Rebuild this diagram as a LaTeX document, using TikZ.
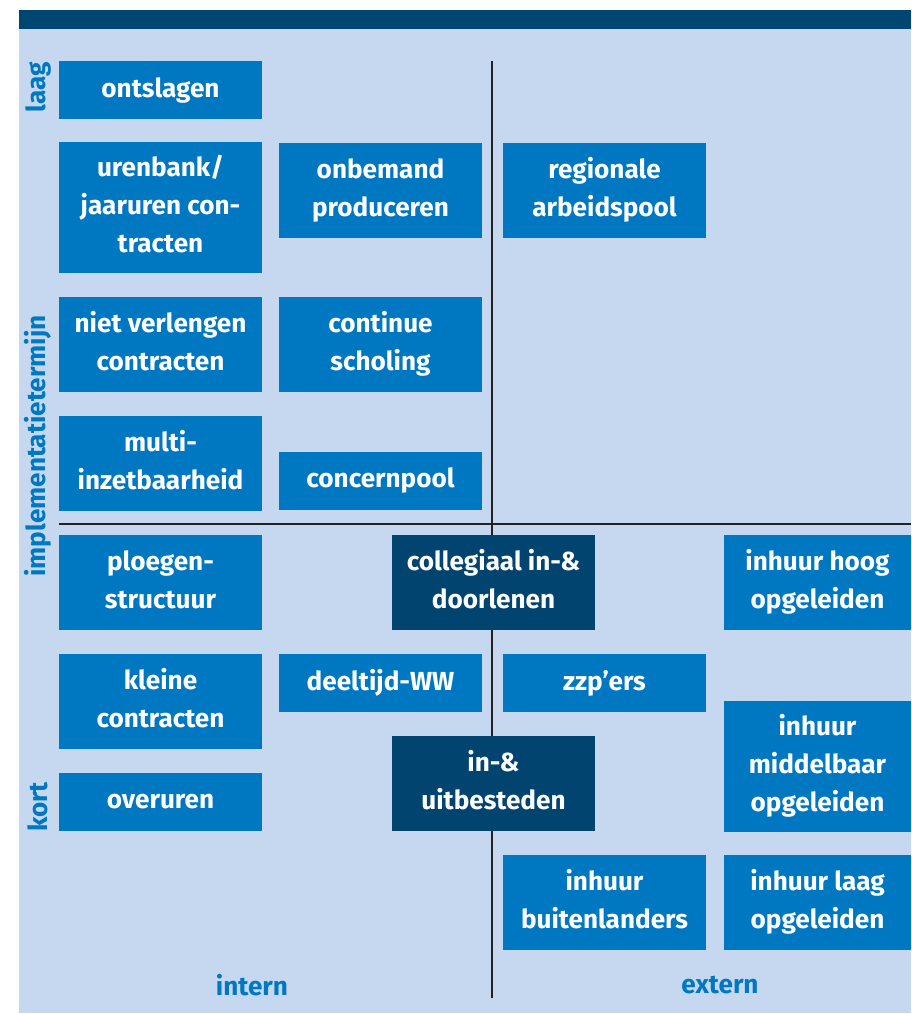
\documentclass[tikz,border=0pt]{standalone}
\usepackage{fontspec}
\setmainfont{Fira Sans}
\usepackage{xcolor}
\usetikzlibrary{positioning}

\definecolor{achtergrond}{HTML}{C6D8EF}
\definecolor{balk}{HTML}{004672}
\definecolor{blok}{HTML}{0077C1}
\definecolor{blokdonker}{HTML}{00446F}
\definecolor{as}{HTML}{222222}

\newcommand\regelsteun{\rule[-5pt]{0pt}{28.5pt}}

\begin{document}
\begin{tikzpicture}[x=0.75pt, y=-0.75pt,
  every node/.style={font=\bfseries\fontsize{19.6}{28.5}\selectfont},
  optie/.style={fill=blok, text=white, align=center, inner sep=0pt, minimum width=152.25pt},
  donker/.style={optie, fill=blokdonker},
  enkel/.style={minimum height=43.5pt},
  dubbel/.style={minimum height=71.25pt, execute at begin node=\regelsteun, execute at end node=\regelsteun},
  drie/.style={minimum height=98.25pt, execute at begin node=\regelsteun, execute at end node=\regelsteun},
  rand/.style={minimum width=140.25pt},
  aslabel/.style={text=blok, inner sep=0pt}]
  \useasboundingbox (0,0) rectangle (911,1014);
  \fill[achtergrond] (19,10) rectangle (911,1013);
  \fill[balk] (19,10) rectangle (911,29);

  % assen
  \coordinate (boven) at (492,61);
  \coordinate (onder) at (492,998);
  \coordinate (links) at (59,524);
  \coordinate (rechts) at (911,524);
  \draw[as, line width=2pt] (boven) -- (onder);
  \draw[as, line width=2pt] (links) -- (rechts);

  % intern
  \node[optie, enkel] (ontslagen) at (160.5,90) {ontslagen};
  \node[optie, drie] (urenbank) at (160.5,207.5) {urenbank/\\jaaruren con-\\tracten};
  \node[optie, dubbel] (onbemand) at (380.5,190.5) {onbemand\\produceren};
  \node[optie, dubbel] (nietverl) at (160.5,344.5) {niet verlengen\\contracten};
  \node[optie, dubbel] (scholing) at (380.5,344.5) {continue\\scholing};
  \node[optie, dubbel] (multi) at (160.5,463.5) {multi-\\inzetbaarheid};
  \node[optie, enkel] (concern) at (380.5,480.5) {concernpool};
  \node[optie, dubbel] (ploegen) at (160.5,582.5) {ploegen-\\structuur};
  \node[optie, dubbel] (kleine) at (160.5,701.5) {kleine\\contracten};
  \node[optie, enkel] (deeltijd) at (380.5,683) {deeltijd-WW};
  \node[optie, enkel] (overuren) at (160.5,802) {overuren};

  % midden
  \node[donker, dubbel] (collegiaal) at (493.5,582.5) {collegiaal in-\&\\doorlenen};
  \node[donker, dubbel] (uitbesteden) at (493.5,783.5) {in-\&\\uitbesteden};

  % extern
  \node[optie, dubbel] (regionaal) at (604.5,190.5) {regionale\\arbeidspool};
  \node[optie, enkel] (zzp) at (604.5,683) {zzp’ers};
  \node[optie, dubbel] (buitenland) at (604.5,902.5) {inhuur\\buitenlanders};
  \node[optie, dubbel, rand] (hoog) at (817.5,582.5) {inhuur hoog\\opgeleiden};
  \node[optie, drie, rand] (middel) at (817.5,766) {inhuur\\middelbaar\\opgeleiden};
  \node[optie, dubbel, rand] (laag) at (817.5,902.5) {inhuur laag\\opgeleiden};

  % labels
  \node[aslabel, rotate=90] (lbllaag) at (38,87) {laag};
  \node[aslabel, rotate=90] (lbltermijn) at (38,446) {implementatietermijn};
  \node[aslabel, rotate=90] (lblkort) at (38,807) {kort};
  \node[aslabel] (lblintern) at (252,985) {intern};
  \node[aslabel] (lblextern) at (720,985) {extern};
\end{tikzpicture}
\end{document}
